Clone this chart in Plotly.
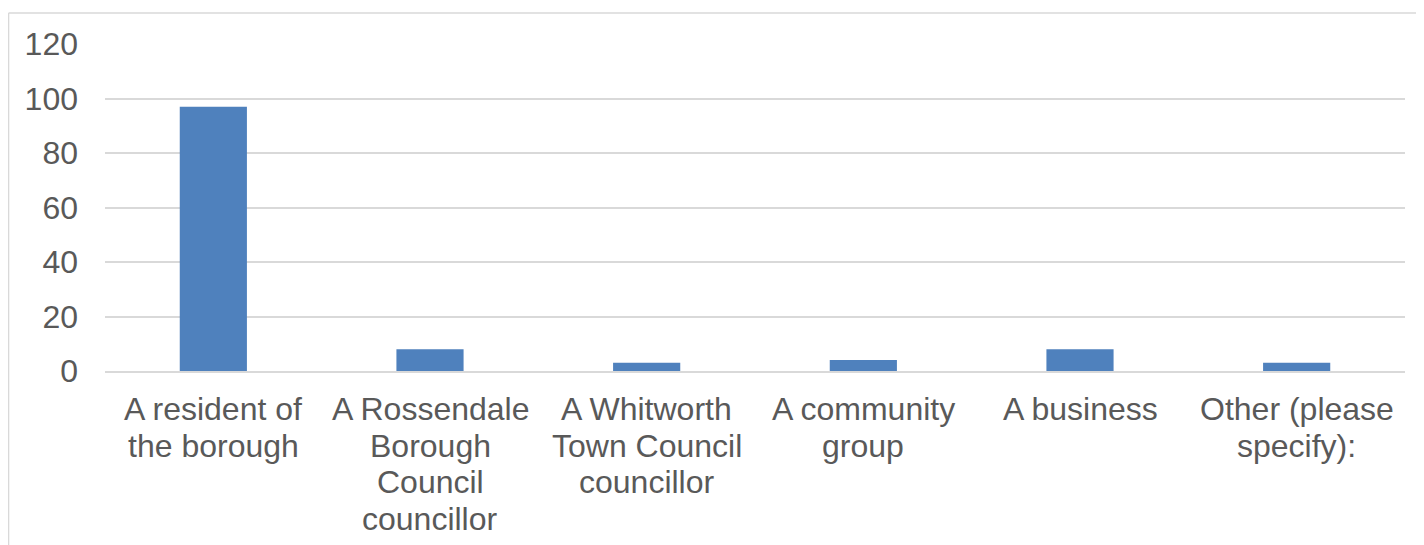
import plotly.graph_objects as go

categories = [
    "A resident of\nthe borough",
    "A Rossendale\nBorough\nCouncil\ncouncillor",
    "A Whitworth\nTown Council\ncouncillor",
    "A community\ngroup",
    "A business",
    "Other (please\nspecify):",
]
values = [97, 8, 3, 4, 8, 3]
y_ticks = [0, 20, 40, 60, 80, 100, 120]

font_color = "#595959"
font_family = "Liberation Sans, Arial, sans-serif"
font_size = 32
line_step = 36.5

fig = go.Figure(
    go.Bar(
        x=categories,
        y=values,
        marker=dict(color="#4F81BD", line=dict(width=0)),
        width=0.31,
    )
)

annotations = []
for cat in categories:
    for i, line in enumerate(cat.split("\n")):
        annotations.append(
            dict(
                x=cat, xref="x", y=0, yref="paper",
                text=line, showarrow=False,
                xanchor="center", yanchor="middle",
                yshift=-38 - i * line_step,
                font=dict(family=font_family, size=font_size, color=font_color),
            )
        )

fig.update_layout(
    width=1424,
    height=545,
    margin=dict(l=97, r=27, t=36, b=182),
    paper_bgcolor="white",
    plot_bgcolor="white",
    showlegend=False,
    font=dict(family=font_family, size=font_size, color=font_color),
    bargap=0.69,
    annotations=annotations,
    shapes=[
        dict(type="line", xref="paper", yref="paper", x0=-0.0742, x1=1.2, y0=1.0948, y1=1.0948,
             line=dict(color="#D9D9D9", width=1.5)),
        dict(type="line", xref="paper", yref="paper", x0=-0.0742, x1=-0.0742, y0=1.0948, y1=-0.7,
             line=dict(color="#D9D9D9", width=1.5)),
    ],
)
fig.update_xaxes(
    showgrid=False,
    showline=True,
    linecolor="#D9D9D9",
    linewidth=1.5,
    ticks="",
    showticklabels=False,
    automargin=False,
)
fig.update_yaxes(
    range=[0, 120],
    tickvals=y_ticks,
    showgrid=True,
    gridcolor="#D9D9D9",
    gridwidth=1.5,
    zeroline=False,
    showline=False,
    ticks="",
    ticklabelstandoff=26,
    automargin=False,
)

fig.write_html("out.html")
